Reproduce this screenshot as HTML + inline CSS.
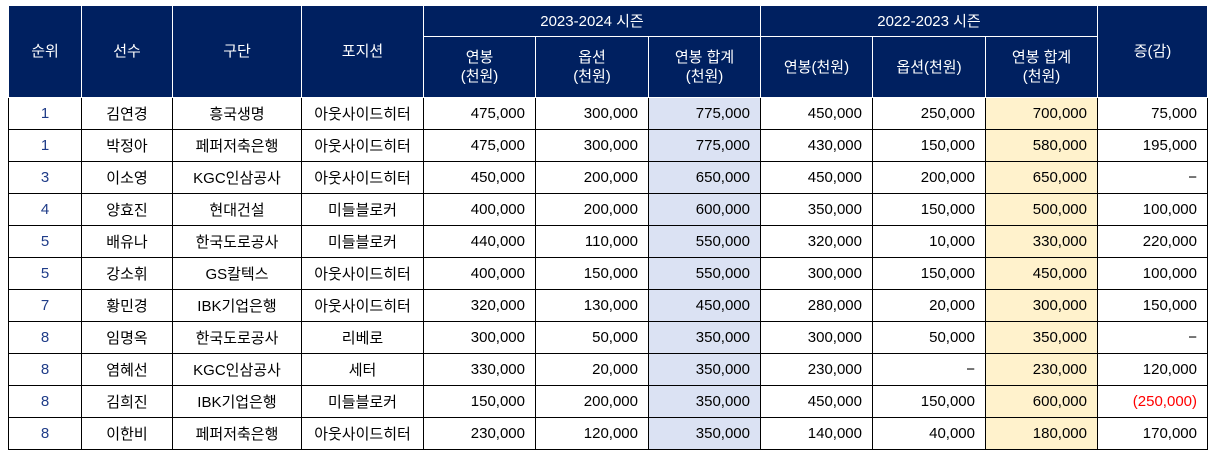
<!DOCTYPE html>
<html><head><meta charset="utf-8"><style>
body{margin:0;background:#fff;width:1213px;height:456px;overflow:hidden}
table{position:absolute;left:8px;top:5px;border-collapse:collapse;table-layout:fixed;font-family:"Liberation Sans","Noto Sans CJK KR",sans-serif;font-size:15px;color:#000}
th{background:#002060;color:#fff;font-weight:normal;border:1px solid #fff;line-height:19px;padding:0}
td{border:1px solid #000;height:31px;padding:0 10px;text-align:right;white-space:nowrap}
td.c{text-align:center;padding:0}
td.b{background:#dbe2f3}
td.y{background:#fff2cc}
td.r{color:#f00}
td.n{color:#1f3c88}
</style></head><body>
<table>
<colgroup><col style="width:73px"><col style="width:91px"><col style="width:129px"><col style="width:122px"><col style="width:112px"><col style="width:113px"><col style="width:112px"><col style="width:112px"><col style="width:113px"><col style="width:112px"><col style="width:110px"></colgroup>
<thead>
<tr style="height:31px"><th rowspan="2">순위</th><th rowspan="2">선수</th><th rowspan="2">구단</th><th rowspan="2">포지션</th><th colspan="3">2023-2024 시즌</th><th colspan="3">2022-2023 시즌</th><th rowspan="2">증(감)</th></tr>
<tr style="height:61px"><th>연봉<br>(천원)</th><th>옵션<br>(천원)</th><th>연봉 합계<br>(천원)</th><th>연봉(천원)</th><th>옵션(천원)</th><th>연봉 합계<br>(천원)</th></tr>
</thead>
<tbody id="tb"></tbody>
</table>
<script>
const rows=[
["1","김연경","흥국생명","아웃사이드히터","475,000","300,000","775,000","450,000","250,000","700,000","75,000"],
["1","박정아","페퍼저축은행","아웃사이드히터","475,000","300,000","775,000","430,000","150,000","580,000","195,000"],
["3","이소영","KGC인삼공사","아웃사이드히터","450,000","200,000","650,000","450,000","200,000","650,000","−"],
["4","양효진","현대건설","미들블로커","400,000","200,000","600,000","350,000","150,000","500,000","100,000"],
["5","배유나","한국도로공사","미들블로커","440,000","110,000","550,000","320,000","10,000","330,000","220,000"],
["5","강소휘","GS칼텍스","아웃사이드히터","400,000","150,000","550,000","300,000","150,000","450,000","100,000"],
["7","황민경","IBK기업은행","아웃사이드히터","320,000","130,000","450,000","280,000","20,000","300,000","150,000"],
["8","임명옥","한국도로공사","리베로","300,000","50,000","350,000","300,000","50,000","350,000","−"],
["8","염혜선","KGC인삼공사","세터","330,000","20,000","350,000","230,000","−","230,000","120,000"],
["8","김희진","IBK기업은행","미들블로커","150,000","200,000","350,000","450,000","150,000","600,000","(250,000)"],
["8","이한비","페퍼저축은행","아웃사이드히터","230,000","120,000","350,000","140,000","40,000","180,000","170,000"]];
const names=["rank","player","team","position","salary","option","total","salary-prev","option-prev","total-prev","change"];
const tb=document.getElementById('tb');
rows.forEach((r,i)=>{const tr=document.createElement('tr');


r.forEach((v,j)=>{const td=document.createElement('td');td.textContent=v;
let c=[];if(j<4)c.push('c');if(j==0)c.push('n');if(j==6)c.push('b');if(j==9)c.push('y');if(v.startsWith('('))c.push('r');td.className=c.join(' ');


tr.appendChild(td);});tb.appendChild(tr);});
</script>
</body></html>
